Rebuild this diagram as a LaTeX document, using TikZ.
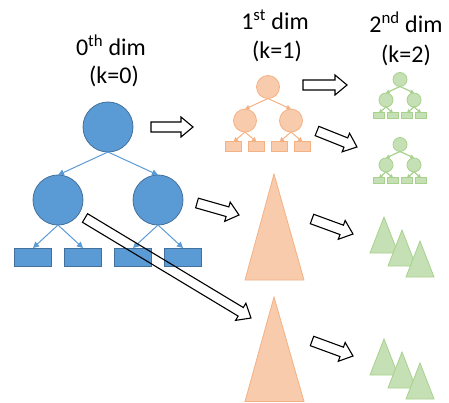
\documentclass[tikz,border=0pt]{standalone}
\usepackage{fontspec}
\setmainfont{Carlito}
\usetikzlibrary{arrows.meta,calc}
\definecolor{bluefill}{HTML}{5B9BD5}
\definecolor{bluedraw}{HTML}{41719C}
\definecolor{orfill}{HTML}{F8CBAD}
\definecolor{ordraw}{HTML}{F4B183}
\definecolor{grfill}{HTML}{C5E0B4}
\definecolor{grdraw}{HTML}{A9D18E}
\tikzset{
  title/.style={font=\fontsize{24}{29}\selectfont, inner sep=0pt, anchor=base},
  bluecirc/.style={circle, fill=bluefill, draw=bluedraw, line width=0.8pt, inner sep=0pt, outer sep=0pt},
  bluerect/.style={rectangle, fill=bluefill, draw=bluedraw, line width=0.8pt, inner sep=0pt, outer sep=0pt},
  blueedge/.style={draw=bluefill, line width=1pt, -{Triangle[length=6pt,width=6pt]}},
  orcirc/.style={circle, fill=orfill, draw=ordraw, line width=0.8pt, inner sep=0pt, outer sep=0pt},
  orrect/.style={rectangle, fill=orfill, draw=ordraw, line width=0.8pt, inner sep=0pt, outer sep=0pt},
  oredge/.style={draw=ordraw, line width=1pt, -{Triangle[length=4.5pt,width=4.5pt]}},
  grcirc/.style={circle, fill=grfill, draw=grdraw, line width=0.8pt, inner sep=0pt, outer sep=0pt},
  grrect/.style={rectangle, fill=grfill, draw=grdraw, line width=0.8pt, inner sep=0pt, outer sep=0pt},
  gredge/.style={draw=grdraw, line width=1.2pt, -{Triangle[length=3.5pt,width=4pt]}},
  ortri/.style={fill=orfill, draw=ordraw, line width=0.8pt},
  grtri/.style={fill=grfill, draw=grdraw, line width=0.8pt},
  barrow/.style={draw=black, line width=1.1pt, line join=miter},
}
% #1 prefix, #2 X, #3 Y, #4 scale, #5 style, #6 rect w, #7 rect h
\newcommand\mytree[7]{%
  \node[#5circ, minimum size={50*#4}] (#1r) at (#2,#3) {};
  \node[#5circ, minimum size={50*#4}] (#1a) at ({#2-50*#4},{#3+73*#4}) {};
  \node[#5circ, minimum size={50*#4}] (#1b) at ({#2+50*#4},{#3+73*#4}) {};
  \node[#5rect, minimum width=#6, minimum height=#7] (#1p) at ({#2-75*#4},{#3+130*#4}) {};
  \node[#5rect, minimum width=#6, minimum height=#7] (#1q) at ({#2-25*#4},{#3+130*#4}) {};
  \node[#5rect, minimum width=#6, minimum height=#7] (#1s) at ({#2+25*#4},{#3+130*#4}) {};
  \node[#5rect, minimum width=#6, minimum height=#7] (#1t) at ({#2+75*#4},{#3+130*#4}) {};
  \draw[#5edge] (#1r.south) -- (#1a.north);
  \draw[#5edge] (#1r.south) -- (#1b.north);
  \draw[#5edge] (#1a.south) -- (#1p.north);
  \draw[#5edge] (#1a.south) -- (#1q.north);
  \draw[#5edge] (#1b.south) -- (#1s.north);
  \draw[#5edge] (#1b.south) -- (#1t.north);
}
% block arrow from coordinate #2 to coordinate #3
\newcommand\blockarr[3][fill=white]{%
  \path (#2) coordinate (ta) (#3) coordinate (tb) ($(tb)!12pt!(ta)$) coordinate (tc);
  \draw[barrow,#1] ($(ta)!5pt!90:(tb)$) -- ($(tc)!5pt!90:(tb)$) -- ($(tc)!10pt!90:(tb)$)
     -- (tb) -- ($(tc)!10pt!-90:(tb)$) -- ($(tc)!5pt!-90:(tb)$) -- ($(ta)!5pt!-90:(tb)$) -- cycle;
}
\begin{document}
\begin{tikzpicture}[x=1pt,y=-1pt]
\useasboundingbox (0,0) rectangle (449,403);
% titles
\node[title] (t0a) at (111,56) {0\textsuperscript{th} dim};
\node[title] (t0b) at (114,83.5) {(k=0)};
\node[title] (t1a) at (275,30) {1\textsuperscript{st} dim};
\node[title] (t1b) at (277,58.5) {(k=1)};
\node[title] (t2a) at (406,33) {2\textsuperscript{nd} dim};
\node[title] (t2b) at (406,62.5) {(k=2)};
% trees
\mytree{b}{108}{127}{1}{blue}{37}{18}
\mytree{o}{268}{87}{0.46}{or}{16}{10}
\mytree{g}{400}{79.5}{0.28}{gr}{11.5}{6}
\mytree{h}{400}{144.5}{0.28}{gr}{11.5}{6}
% orange triangles
\draw[ortri] (274,174) -- (304,280) -- (245,280) -- cycle;
\draw[ortri] (274,297) -- (304,401.5) -- (245,401.5) -- cycle;
% green triangles
\foreach \dy in {0,122}{
  \draw[grtri] (384,217+\dy) -- (398,253+\dy) -- (370,253+\dy) -- cycle;
  \draw[grtri] (402,230+\dy) -- (416,266+\dy) -- (388,266+\dy) -- cycle;
  \draw[grtri] (420,241+\dy) -- (434,277+\dy) -- (406,277+\dy) -- cycle;
}
% block arrows
\coordinate (a1s) at (151,127); \coordinate (a1e) at (193,127);
\coordinate (a2s) at (303,85);  \coordinate (a2e) at (347,85);
\coordinate (a3s) at (317,131); \coordinate (a3e) at (357,147);
\coordinate (a4s) at (197,203); \coordinate (a4e) at (239,215);
\coordinate (a5s) at (312,219); \coordinate (a5e) at (353,234);
\coordinate (a6s) at (85,218);  \coordinate (a6e) at (251,318);
\coordinate (a7s) at (312,341); \coordinate (a7e) at (353,356);
\blockarr{a1s}{a1e}
\blockarr{a2s}{a2e}
\blockarr{a3s}{a3e}
\blockarr{a4s}{a4e}
\blockarr{a5s}{a5e}
\blockarr[fill=none]{a6s}{a6e}
\blockarr{a7s}{a7e}
\end{tikzpicture}
\end{document}
